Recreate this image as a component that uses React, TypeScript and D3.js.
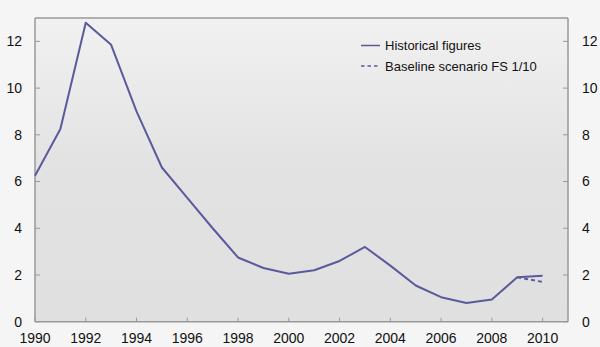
import React, { useEffect, useRef } from "react";
import * as d3 from "d3";

const years = [1990,1991,1992,1993,1994,1995,1996,1997,1998,1999,2000,2001,2002,2003,2004,2005,2006,2007,2008,2009,2010];
const historical = [6.25,8.25,12.8,11.85,9.0,6.6,5.3,4.0,2.75,2.3,2.05,2.2,2.6,3.2,2.4,1.55,1.05,0.8,0.95,1.9,1.97];
const baselineYears = [2009, 2010];
const baseline = [1.9, 1.7];
const xTicks = [1990,1992,1994,1996,1998,2000,2002,2004,2006,2008,2010];
const yTicks = [0,2,4,6,8,10,12];
const legendLabels = ["Historical figures", "Baseline scenario FS 1/10"];

const W = 600, H = 347;
const M = { left: 35, right: 568, top: 18, bottom: 321.7 };
const lineColor = "#5a5a9c";

export default function App() {
  const ref = useRef<SVGSVGElement>(null);
  useEffect(() => {
    const svg = d3.select(ref.current);
    svg.selectAll("*").remove();
    const x = d3.scaleLinear().domain([1990, 2011]).range([M.left, M.right]);
    const y = d3.scaleLinear().domain([0, 13]).range([M.bottom, M.top]);

    const defs = svg.append("defs");
    const grad = defs.append("linearGradient").attr("id", "bg").attr("x1", 0).attr("x2", 0).attr("y1", 0).attr("y2", 1);
    grad.append("stop").attr("offset", "0%").attr("stop-color", "#f1f1f1");
    grad.append("stop").attr("offset", "50%").attr("stop-color", "#e2e2e2");
    grad.append("stop").attr("offset", "100%").attr("stop-color", "#e0e0e0");

    svg.append("rect").attr("width", W).attr("height", H).attr("fill", "#f5f5f5");
    svg.append("rect").attr("x", M.left).attr("y", M.top).attr("width", M.right - M.left).attr("height", M.bottom - M.top).attr("fill", "url(#bg)");

    const axisColor = "#999";
    svg.append("line").attr("x1", M.left).attr("x2", M.left).attr("y1", M.top).attr("y2", M.bottom).attr("stroke", axisColor).attr("stroke-width", 1.5);
    svg.append("line").attr("x1", M.right).attr("x2", M.right).attr("y1", M.top).attr("y2", M.bottom).attr("stroke", axisColor).attr("stroke-width", 1.5);
    svg.append("line").attr("x1", M.left).attr("x2", M.right).attr("y1", M.bottom).attr("y2", M.bottom).attr("stroke", axisColor).attr("stroke-width", 1.5);
    svg.append("line").attr("x1", M.left).attr("x2", M.right).attr("y1", M.top).attr("y2", M.top).attr("stroke", axisColor).attr("stroke-width", 1.5);

    const font = "Liberation Sans, Arial, sans-serif";
    yTicks.forEach(v => {
      const yy = y(v);
      svg.append("line").attr("x1", M.left).attr("x2", M.left + 5).attr("y1", yy).attr("y2", yy).attr("stroke", axisColor);
      svg.append("line").attr("x1", M.right - 5).attr("x2", M.right).attr("y1", yy).attr("y2", yy).attr("stroke", axisColor);
      svg.append("text").attr("x", 22).attr("y", yy).attr("dy", "0.35em").attr("text-anchor", "end")
        .attr("font-family", font).attr("font-size", 14).attr("fill", "#111").text(String(v));
      svg.append("text").attr("x", 582).attr("y", yy).attr("dy", "0.35em").attr("text-anchor", "start")
        .attr("font-family", font).attr("font-size", 14).attr("fill", "#111").text(String(v));
    });
    xTicks.forEach(v => {
      const xx = x(v);
      svg.append("line").attr("x1", xx).attr("x2", xx).attr("y1", M.bottom).attr("y2", M.bottom - 4).attr("stroke", axisColor);
      svg.append("text").attr("x", xx).attr("y", 343).attr("text-anchor", "middle")
        .attr("font-family", font).attr("font-size", 14).attr("fill", "#111").text(String(v));
    });

    const line = d3.line<number>().x((_, i) => x(years[i])).y(d => y(d));
    svg.append("path").attr("d", line(historical)).attr("fill", "none").attr("stroke", lineColor).attr("stroke-width", 2).attr("stroke-linejoin", "round");
    const bline = d3.line<number>().x((_, i) => x(baselineYears[i])).y(d => y(d));
    svg.append("path").attr("d", bline(baseline)).attr("fill", "none").attr("stroke", lineColor).attr("stroke-width", 2).attr("stroke-dasharray", "4,3");

    const ly = [45.5, 66];
    legendLabels.forEach((lab, i) => {
      svg.append("line").attr("x1", 361).attr("x2", 380).attr("y1", ly[i]).attr("y2", ly[i])
        .attr("stroke", lineColor).attr("stroke-width", 1.5).attr("stroke-dasharray", i === 1 ? "3.5,3" : null);
      svg.append("text").attr("x", 385).attr("y", ly[i]).attr("dy", "0.35em")
        .attr("font-family", font).attr("font-size", 13).attr("fill", "#111").text(lab);
    });
  }, []);
  return <svg ref={ref} width={W} height={H} style={{ position: "absolute", left: 0, top: 0 }} />;
}
